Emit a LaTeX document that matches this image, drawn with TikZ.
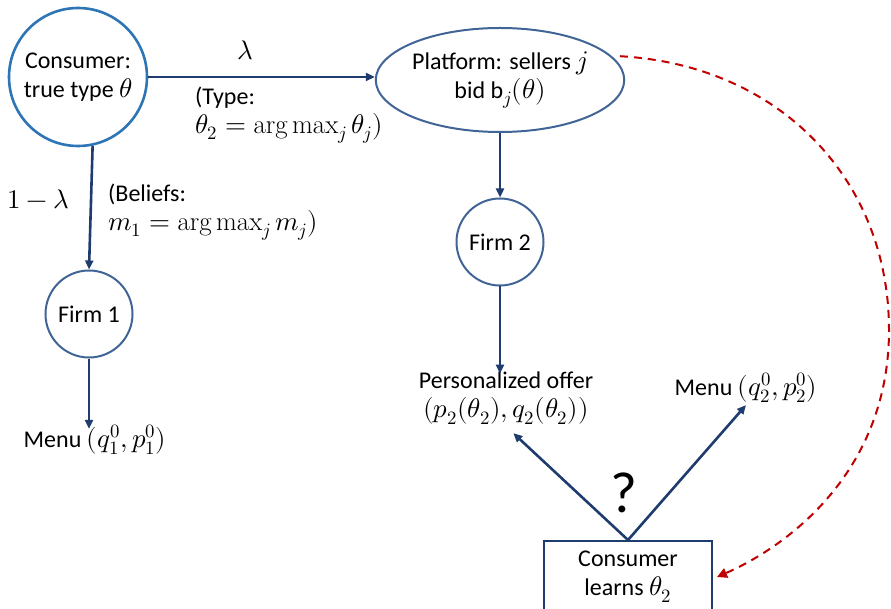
\documentclass[tikz,border=0pt]{standalone}
\usepackage{fontspec}
\usepackage{unicode-math}
\setmainfont{Carlito}
\setmathfont{Latin Modern Math}[Scale=1.12]
\setmathrm{Latin Modern Roman}[Scale=1.12]
\usetikzlibrary{arrows.meta,shapes.geometric}
\definecolor{consblue}{RGB}{46,117,182}
\definecolor{nodeblue}{RGB}{65,100,150}
\definecolor{arrowblue}{RGB}{31,60,110}
\definecolor{dashred}{RGB}{192,0,0}
\begin{document}
\begin{tikzpicture}[x=1pt, y=-1pt, font=\fontsize{24}{29}\selectfont,
  firm node/.style={circle,draw=nodeblue,line width=2pt,minimum size=87pt,inner sep=0pt},
  flow/.style={draw=arrowblue,line width=2.6pt,-{Triangle[length=9pt,width=8pt]}},
  txt/.style={align=left,inner sep=0pt}]%
\useasboundingbox (0,0) rectangle (891,609);
\begin{scope}[every node/.style={align=center}]
\node[circle,draw=consblue,line width=2.6pt,minimum size=138pt,inner sep=0pt] (consumer) at (78,77) {Consumer:\\true type $\theta$};
\node[ellipse,draw=nodeblue,line width=2pt,minimum width=234pt,minimum height=104pt,inner sep=0pt] (platform) at (500,80) {Platform: sellers $j$\\bid b$_j(\theta)$};
\node[firm node] (firm1) at (89,314) {Firm 1};
\node[firm node] (firm2) at (500,242) {Firm 2};
\node[inner sep=2pt] (menu1) at (95,440) {Menu $(q_1^0,p_1^0)$};
\node[inner sep=2pt] (offer) at (506,398) {Personalized offer\\$(p_2(\theta_2),q_2(\theta_2))$};
\node[inner sep=2pt] (menu2) at (746,388) {Menu $(q_2^0,p_2^0)$};
\node[rectangle,draw=arrowblue,line width=2pt,minimum width=168pt,minimum height=72pt] (learn) at (628,577) {Consumer\\learns $\theta_2$};
\node (ask) at (624,493) {\fontsize{58}{60}\selectfont ?};
\end{scope}
% labels on the links
\node (lam) at (245,50) {$\lambda$};
\node[txt,anchor=west] (type) at (195,115) {(Type:\\$\theta_2=\arg\max_j\theta_j)$};
\node (onelam) at (38,199) {$1-\lambda$};
\node[txt,anchor=west] (belief) at (108,212) {(Beliefs:\\$m_1=\arg\max_j m_j)$};
\begin{scope}
\draw[flow] (consumer) -- (consumer -| platform.west);
\draw[flow] (consumer.-78) -- (firm1.north);
\draw[flow] (firm1.south) -- ([yshift=-6pt]firm1.south |- menu1.north);
\draw[flow] (platform.south) -- (firm2.north);
\draw[flow] (firm2.south) -- ([yshift=-4pt]firm2.south |- offer.north);
\draw[flow,shorten >=10pt] (learn.north) -- (offer.south);
\draw[flow] (learn.north) -- (menu2.south);
%\draw[flow] (learn) -- (ask);
\draw[dashred,line width=2pt,dash pattern=on 8pt off 6pt,-{Triangle[length=10pt,width=10pt]}]
  ([xshift=8pt]platform.12) .. controls (780,65) and (889,180) .. (889,330)
  .. controls (889,470) and (790,545) .. ([xshift=4pt]learn.east);
\end{scope}
\end{tikzpicture}
\end{document}
